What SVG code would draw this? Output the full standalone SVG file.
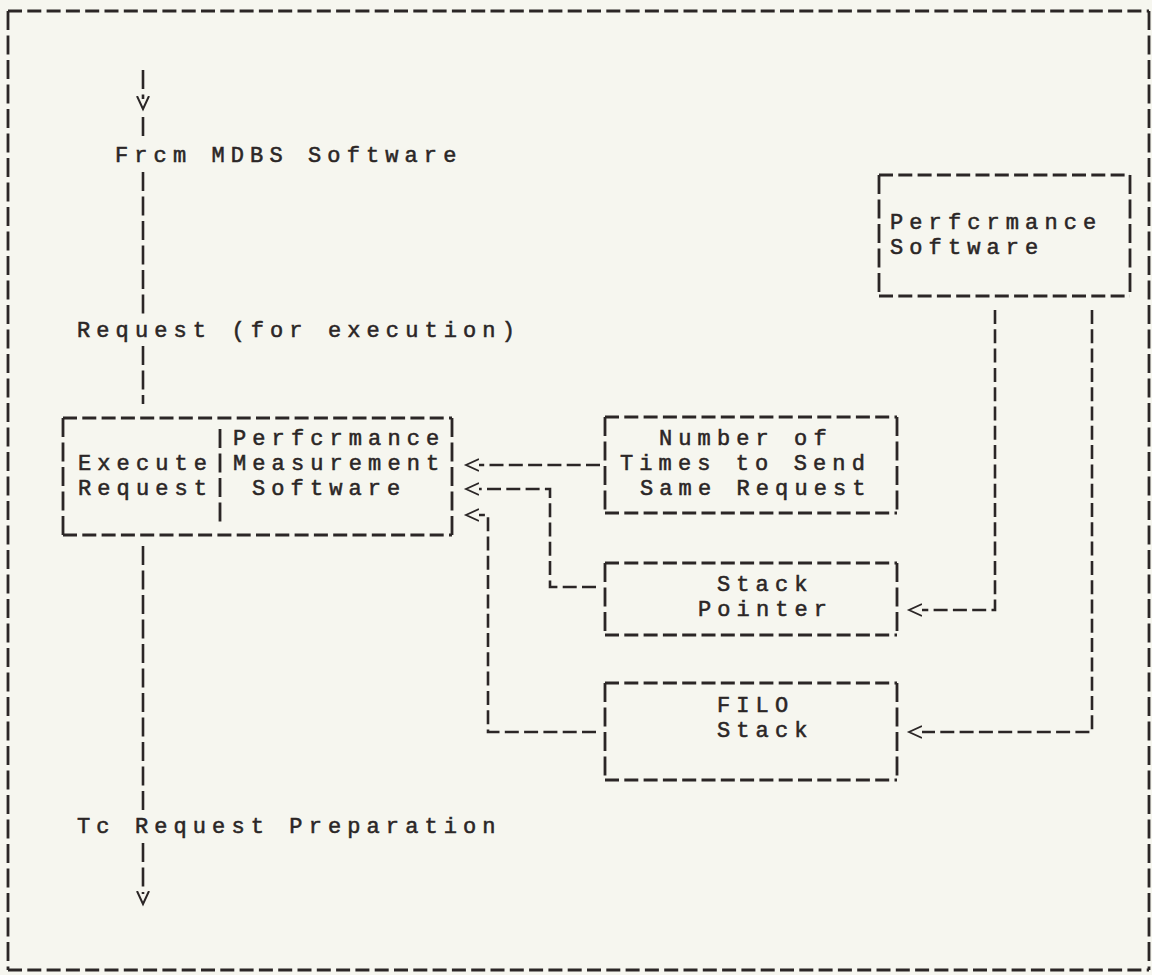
<svg xmlns="http://www.w3.org/2000/svg" width="1152" height="975" viewBox="0 0 1152 975">
<style>
.h{fill:none;stroke:#2b2626;stroke-width:2.8;stroke-dasharray:14 5.3}
.v{fill:none;stroke:#2b2626;stroke-width:2.8;stroke-dasharray:19 5.5}
.c{fill:none;stroke:#2b2626;stroke-width:2.6;stroke-dasharray:14 5.3}
.cv{fill:none;stroke:#2b2626;stroke-width:2.6;stroke-dasharray:19 5.5}
text{font-family:"Liberation Mono","DejaVu Sans Mono",monospace;font-size:22px;letter-spacing:6.1px;fill:#2b2626;stroke:#2b2626;stroke-width:0.55}
</style>
<defs>
<marker id="arr" markerUnits="userSpaceOnUse" markerWidth="16" markerHeight="16" viewBox="0 -8 16 16" refX="0" refY="0" orient="auto">
<path d="M0,-6 L13,0 L0,6" fill="none" stroke="#2b2626" stroke-width="1.8"/>
</marker>
<marker id="arrv" markerUnits="userSpaceOnUse" markerWidth="16" markerHeight="16" viewBox="0 -8 16 16" refX="3" refY="0" orient="auto">
<path d="M0,-6 L13,0 L0,6" fill="none" stroke="#2b2626" stroke-width="2"/>
</marker>
</defs>
<rect x="0" y="0" width="1152" height="975" fill="#f6f6ef"/>

<g id="frame">
<path class="h" d="M8,11 H1149 M8,970 H1149"/>
<path class="v" d="M8,11 V970 M1149,11 V970"/>
</g>

<g id="connectors">
<path class="cv" d="M143,70 V99" marker-end="url(#arrv)"/>
<path class="cv" d="M143,117 V141"/>
<path class="cv" d="M143,172 V316"/>
<path class="cv" d="M143,346 V404"/>
<path class="cv" d="M143,546 V812"/>
<path class="cv" d="M143,843 V894" marker-end="url(#arrv)"/>
<path class="c" d="M600,465 H479" marker-end="url(#arr)"/>
<path class="c" d="M596,587 H550 V489 H479" marker-end="url(#arr)"/>
<path class="c" d="M596,732 H488 V515 H479" marker-end="url(#arr)"/>
<path class="c" d="M995,310 V610 H922" marker-end="url(#arr)"/>
<path class="c" d="M1092,310 V732 H922" marker-end="url(#arr)"/>
</g>

<g id="label-from">
<text x="115" y="162">Frcm MDBS Software</text>
</g>
<g id="label-request">
<text x="77" y="337">Request (for execution)</text>
</g>
<g id="label-to">
<text x="77" y="833">Tc Request Preparation</text>
</g>

<g id="execute-box">
<path class="h" d="M63,418 H452 M63,535 H452"/>
<path class="v" d="M63,418 V535 M452,418 V535 M220,429 V526"/>
<text x="78" y="470">Execute<tspan x="78" y="495">Request</tspan></text>
<text x="233" y="445">Perfcrmance<tspan x="233" y="470">Measurement</tspan><tspan x="252" y="495">Software</tspan></text>
</g>

<g id="number-box">
<path class="h" d="M605,417 H897 M605,513 H897"/>
<path class="v" d="M605,417 V513 M897,417 V513"/>
<text x="659" y="445">Number of<tspan x="620" y="470">Times to Send</tspan><tspan x="640" y="495">Same Request</tspan></text>
</g>

<g id="stack-pointer-box">
<path class="h" d="M605,563 H897 M605,635 H897"/>
<path class="v" d="M605,563 V635 M897,563 V635"/>
<text x="717" y="591">Stack<tspan x="698" y="616">Pointer</tspan></text>
</g>

<g id="filo-box">
<path class="h" d="M605,683 H897 M605,780 H897"/>
<path class="v" d="M605,683 V780 M897,683 V780"/>
<text x="717" y="712">FILO<tspan x="717" y="737">Stack</tspan></text>
</g>

<g id="performance-software-box">
<path class="h" d="M879,175 H1130 M879,296 H1130"/>
<path class="v" d="M879,175 V296 M1130,175 V296"/>
<text x="890" y="229">Perfcrmance<tspan x="890" y="254">Software</tspan></text>
</g>
</svg>
